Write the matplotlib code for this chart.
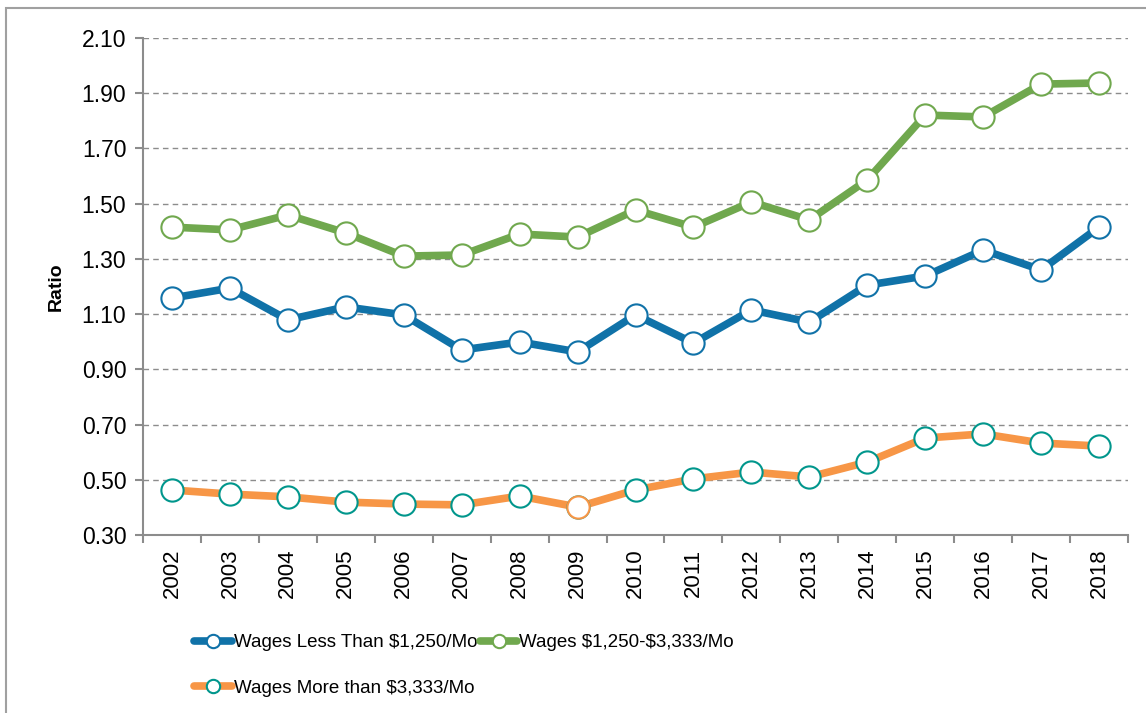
import matplotlib
matplotlib.use('Agg')
import matplotlib.pyplot as plt
from matplotlib.patches import Rectangle
from matplotlib.ticker import FixedLocator, FormatStrFormatter

plt.rcParams['font.family'] = ['Liberation Sans', 'DejaVu Sans']
plt.rcParams['text.parse_math'] = False

# Data
years = ['2002', '2003', '2004', '2005', '2006', '2007', '2008', '2009', '2010',
         '2011', '2012', '2013', '2014', '2015', '2016', '2017', '2018']
wages_low = [1.158, 1.194, 1.079, 1.126, 1.097, 0.970, 0.999, 0.963, 1.097,
             0.995, 1.115, 1.071, 1.205, 1.238, 1.332, 1.260, 1.415]
wages_mid = [1.415, 1.405, 1.459, 1.394, 1.310, 1.314, 1.390, 1.379, 1.477,
             1.415, 1.506, 1.441, 1.586, 1.821, 1.814, 1.933, 1.937]
wages_high = [0.463, 0.448, 0.438, 0.419, 0.412, 0.409, 0.441, 0.401, 0.463,
              0.503, 0.528, 0.510, 0.564, 0.651, 0.666, 0.633, 0.622]
labels = ['Wages Less Than $1,250/Mo', 'Wages $1,250-$3,333/Mo', 'Wages More than $3,333/Mo']
yticks = [0.30, 0.50, 0.70, 0.90, 1.10, 1.30, 1.50, 1.70, 1.90, 2.10]

blue = '#1072A8'
green = '#70A84E'
orange = '#F79646'
teal = '#00968C'
grey = '#8C8C8C'

fig = plt.figure(figsize=(11.46, 7.13), dpi=100)
ax = fig.add_axes([0.1248, 0.2497, 0.8595, 0.697])

# outer chart frame
fig.patches.append(Rectangle((6 / 1146, -0.05), 1.2, 1.05 - 8 / 713, transform=fig.transFigure,
                             fill=False, edgecolor='#A0A0A0', linewidth=1.5, zorder=0))

x = list(range(len(years)))
style = dict(linewidth=5.5, marker='o', markersize=16, markerfacecolor='white',
             markeredgewidth=1.5, solid_capstyle='round')
l_low, = ax.plot(x, wages_low, color=blue, markeredgecolor=blue, label=labels[0], zorder=3, **style)
l_mid, = ax.plot(x, wages_mid, color=green, markeredgecolor=green, label=labels[1], zorder=3, **style)
l_high, = ax.plot(x, wages_high, color=orange, markeredgecolor=teal, label=labels[2], zorder=3, **style)
# 2009 point of the top bracket has an orange outline
i09 = years.index('2009')
ax.plot([x[i09]], [wages_high[i09]], linestyle='none', marker='o', markersize=16,
        markerfacecolor='white', markeredgecolor=orange, markeredgewidth=1.5, zorder=4)

ax.set_xlim(-0.5, len(years) - 0.5)
ax.set_ylim(0.30, 2.10)
ax.set_yticks(yticks)
ax.yaxis.set_major_formatter(FormatStrFormatter('%.2f'))
ax.set_xticks(x)
ax.set_xticklabels(years, rotation=90)
ax.xaxis.set_minor_locator(FixedLocator([i - 0.5 for i in range(len(years) + 1)]))
ax.tick_params(axis='x', which='major', length=0, pad=10, labelsize=16)
ax.tick_params(axis='x', which='minor', length=6, color=grey, width=1.5)
ax.tick_params(axis='y', length=6, color=grey, width=1.5, labelsize=16.5, pad=6)

ax.grid(axis='y', linestyle=(0, (4, 3)), color=grey, linewidth=1)
ax.set_axisbelow(True)
for side in ['top', 'right']:
    ax.spines[side].set_visible(False)
for side in ['left', 'bottom']:
    ax.spines[side].set_color(grey)
    ax.spines[side].set_linewidth(1.5)

ax.set_ylabel('Ratio', fontsize=14, fontweight='bold', labelpad=12)

# column-major fill -> order so rows read low, mid / high
fig.legend([l_low, l_high, l_mid], [labels[0], labels[2], labels[1]],
           loc='upper left', bbox_to_anchor=(0.163, 0.121), ncol=2, frameon=False,
           fontsize=13.5, handlelength=2.0, handletextpad=0.1, columnspacing=0.15,
           labelspacing=1.5, markerscale=0.6, borderaxespad=0)

fig.savefig('out.png', dpi=100)
